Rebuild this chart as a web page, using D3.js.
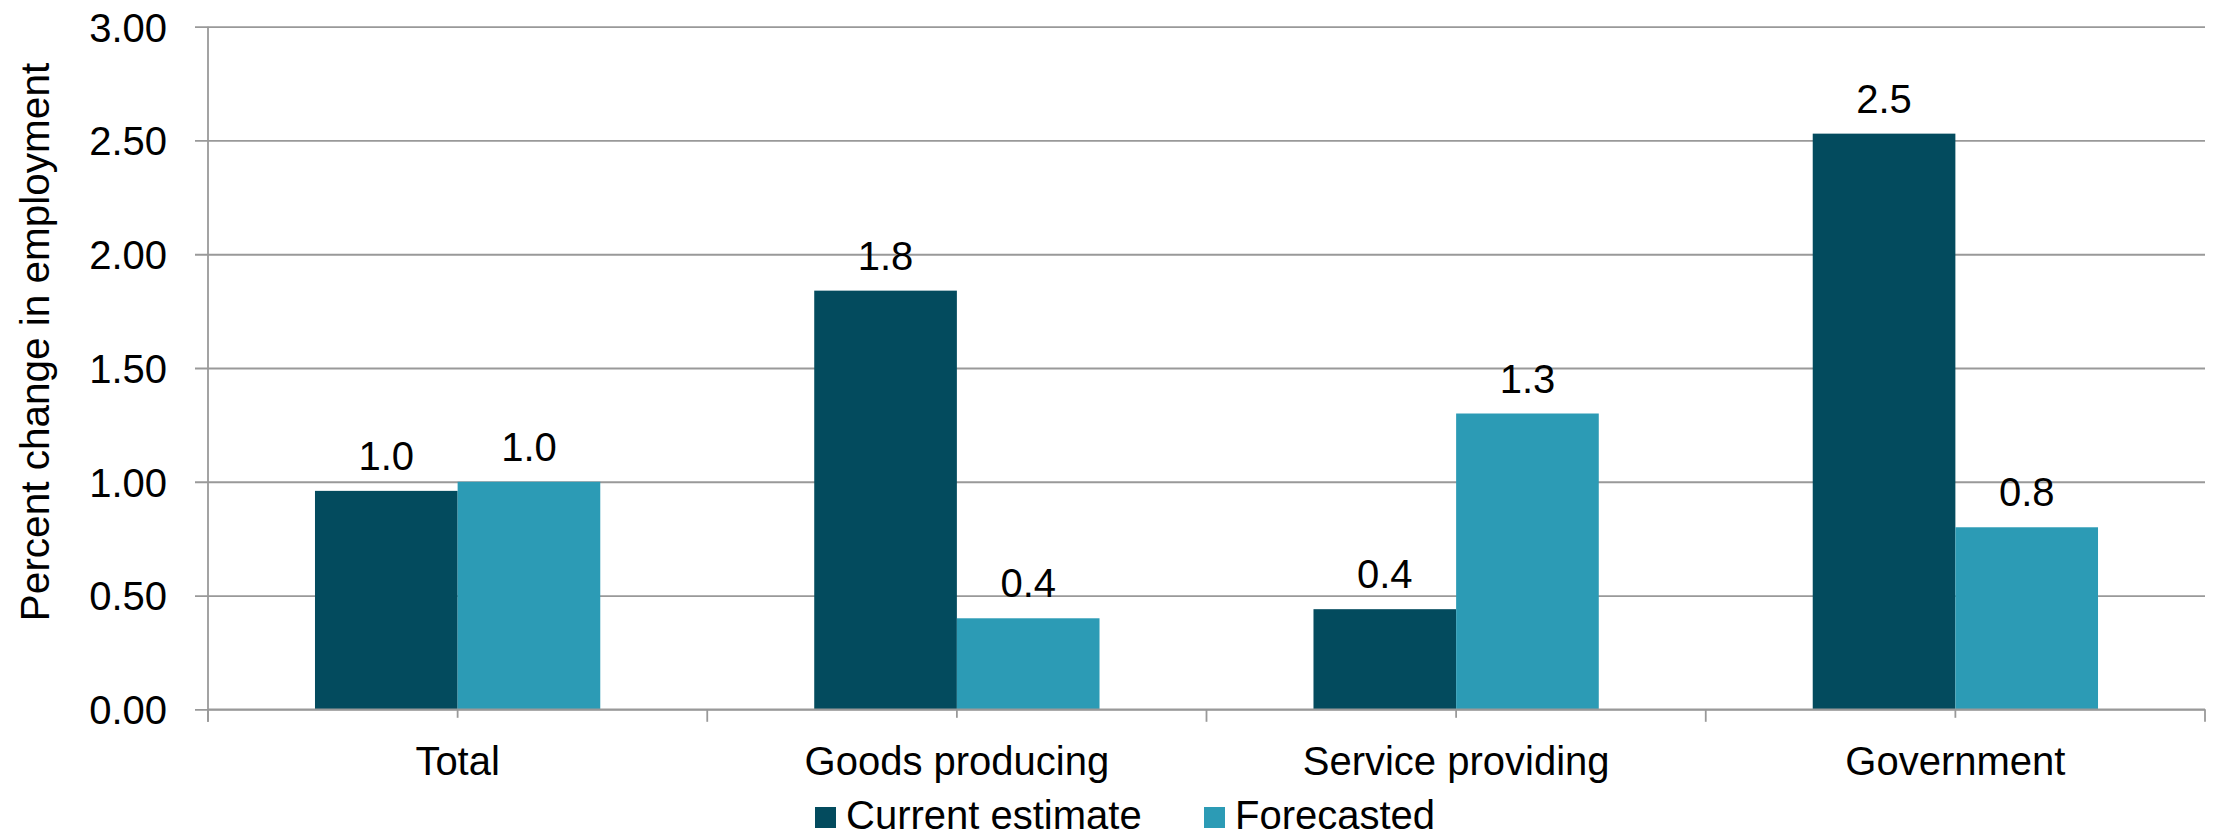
<!DOCTYPE html>
<html>
<head>
<meta charset="utf-8">
<script src="https://cdn.jsdelivr.net/npm/d3@7"></script>
<style>
  html, body { margin: 0; padding: 0; background: #ffffff; }
  svg { display: block; }
  text { font-family: "Liberation Sans", Arial, sans-serif; fill: #000; }
</style>
</head>
<body>
<svg id="chart" width="2216" height="838"></svg>
<script>
// ---- data ----
const categories = ["Total", "Goods producing", "Service providing", "Government"];
const seriesNames = ["Current estimate", "Forecasted"];
const currentEstimate = [0.96, 1.84, 0.44, 2.53];
const forecasted = [1.00, 0.40, 1.30, 0.80];
const yTickValues = [0, 0.5, 1.0, 1.5, 2.0, 2.5, 3.0];
const yAxisTitle = "Percent change in employment";
const seriesColors = ["#034b5e", "#2c9bb5"];

// ---- layout ----
const plotLeft = 208, plotRight = 2205, plotTop = 26.7, plotBottom = 709.3;
const svg = d3.select("#chart");

const x0 = d3.scaleBand().domain(categories).range([plotLeft, plotRight]).paddingInner(0).paddingOuter(0);
const x1 = d3.scaleBand().domain(seriesNames).range([0, x0.bandwidth()]).paddingInner(0).paddingOuter(0.75);
const y = d3.scaleLinear().domain([0, 3]).range([plotBottom, plotTop]);

const gridColor = "#999999";

// gridlines + y ticks (extend left by 13px)
const yAxis = d3.axisLeft(y).tickValues(yTickValues).tickFormat(d3.format(".2f"))
  .tickSizeInner(-(plotRight - plotLeft)).tickSizeOuter(0).tickPadding(0);
const gy = svg.append("g").attr("transform", `translate(${plotLeft},0)`).call(yAxis);
gy.select(".domain").remove();
gy.selectAll(".tick line")
  .attr("x1", -13)
  .attr("stroke", gridColor).attr("stroke-width", 1.8);
gy.selectAll(".tick text")
  .attr("x", -41).attr("dy", "0.36em")
  .style("font-size", "40px").style("font-family", "'Liberation Sans', Arial, sans-serif")
  .attr("fill", "#000");

// y axis line
svg.append("line")
  .attr("x1", plotLeft).attr("x2", plotLeft).attr("y1", plotTop).attr("y2", plotBottom + 12.5)
  .attr("stroke", gridColor).attr("stroke-width", 1.8);

// bars
const rows = categories.map((c, i) => ({ cat: c, vals: [currentEstimate[i], forecasted[i]] }));
const groups = svg.append("g").selectAll("g").data(rows).join("g")
  .attr("transform", d => `translate(${x0(d.cat)},0)`);
groups.selectAll("rect").data(d => d.vals.map((v, j) => ({ s: seriesNames[j], v, j }))).join("rect")
  .attr("x", d => x1(d.s))
  .attr("width", x1.bandwidth())
  .attr("y", d => y(d.v))
  .attr("height", d => y(0) - y(d.v))
  .attr("fill", d => seriesColors[d.j]);

// data labels
groups.selectAll("text.lbl").data(d => d.vals.map((v, j) => ({ s: seriesNames[j], v, j }))).join("text")
  .attr("class", "lbl")
  .attr("x", d => x1(d.s) + x1.bandwidth() / 2)
  .attr("y", d => y(d.v) - 21)
  .attr("text-anchor", "middle")
  .style("font-size", "40px")
  .text(d => d3.format(".1f")(d.v));

// x axis baseline
svg.append("line")
  .attr("x1", plotLeft).attr("x2", plotRight).attr("y1", plotBottom).attr("y2", plotBottom)
  .attr("stroke", gridColor).attr("stroke-width", 1.8);

// boundary ticks (long) and center ticks (short)
const boundaries = categories.map(c => x0(c)).concat([x0(categories[categories.length - 1]) + x0.bandwidth()]);
svg.append("g").selectAll("line").data(boundaries).join("line")
  .attr("x1", d => d).attr("x2", d => d)
  .attr("y1", plotBottom).attr("y2", plotBottom + 12.5)
  .attr("stroke", gridColor).attr("stroke-width", 1.8);
svg.append("g").selectAll("line").data(categories).join("line")
  .attr("x1", d => x0(d) + x0.bandwidth() / 2).attr("x2", d => x0(d) + x0.bandwidth() / 2)
  .attr("y1", plotBottom).attr("y2", plotBottom + 8.5)
  .attr("stroke", gridColor).attr("stroke-width", 1.8);

// category labels
svg.append("g").selectAll("text").data(categories).join("text")
  .attr("x", d => x0(d) + x0.bandwidth() / 2)
  .attr("y", 775)
  .attr("text-anchor", "middle")
  .style("font-size", "40px")
  .text(d => d);

// y axis title
svg.append("text")
  .attr("transform", "translate(49,342) rotate(-90)")
  .attr("text-anchor", "middle")
  .style("font-size", "40.5px")
  .text(yAxisTitle);

// legend
const legendX = [815, 1204];
const lg = svg.append("g").selectAll("g").data(seriesNames).join("g")
  .attr("transform", (d, i) => `translate(${legendX[i]},0)`);
lg.append("rect").attr("x", 0).attr("y", 807).attr("width", 21).attr("height", 21)
  .attr("fill", (d, i) => seriesColors[i]);
lg.append("text").attr("x", 31).attr("y", 829)
  .style("font-size", "40px")
  .text(d => d);
</script>
</body>
</html>
